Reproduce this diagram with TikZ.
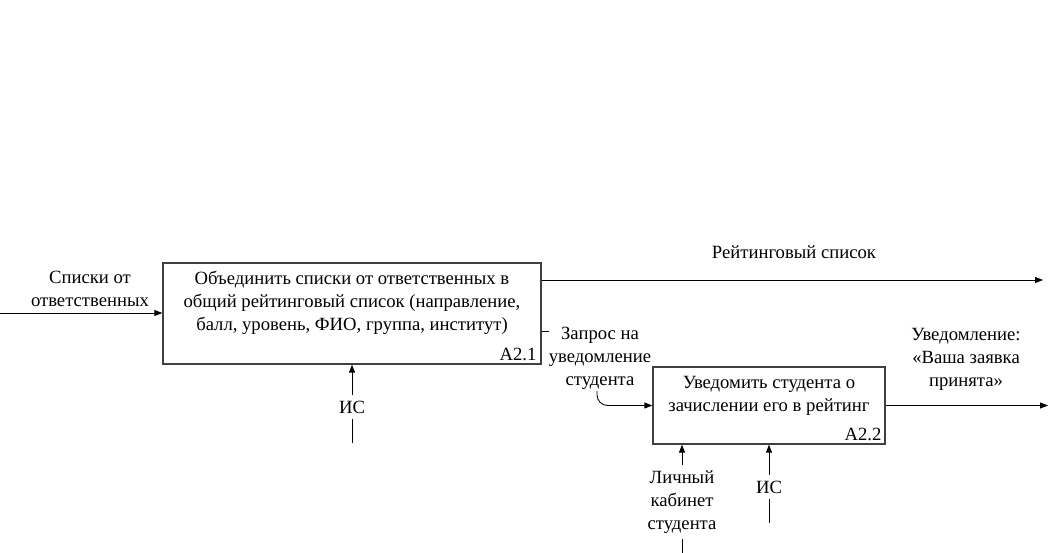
\documentclass[tikz,border=0pt]{standalone}
\usepackage{fontspec}
\setmainfont{Liberation Serif}
\usetikzlibrary{arrows.meta,calc}
\tikzset{
  box/.style={draw=black!75, line width=1pt, fill=none, inner sep=0pt},
  txt/.style={align=center, inner sep=0pt, font=\fontsize{14}{17.2}\selectfont},
  lbl/.style={align=center, inner xsep=0pt, inner ysep=4pt, font=\fontsize{14}{17.2}\selectfont},
  num/.style={inner sep=0pt, font=\fontsize{14}{17.2}\selectfont},
  arr/.style={line width=0.65pt, -{Triangle[length=6pt,width=4.5pt]}},
  ln/.style={line width=0.65pt}
}
\begin{document}
\begin{tikzpicture}[x=0.75pt,y=-0.75pt]
\useasboundingbox (0,0) rectangle (1049,553);
% boxes
\node[box, minimum width=283.5pt, minimum height=75.75pt] (b1) at (352,313.5) {};
\node[txt] (t1) at (352,302.5) {Объединить списки от ответственных в\\общий рейтинговый список (направление,\\балл, уровень, ФИО, группа, институт)};
\node[num, anchor=south east] (n1) at ($(b1.south east)+(-5,-4)$) {A2.1};
\node[box, minimum width=174pt, minimum height=57.75pt] (b2) at (769,405.5) {};
\node[txt] (t2) at (769,395.5) {Уведомить студента о\\зачислении его в рейтинг};
\node[num, anchor=south east] (n2) at ($(b2.south east)+(-4,-4)$) {A2.2};
% input
\coordinate (in1) at (0,313);
\draw[arr] (in1) -- (in1 -| b1.west);
\node[txt] (l1) at (90,288.5) {Списки от\\ответственных};
% output 1
\coordinate (out1) at (1043,280);
\draw[arr] (b1.east |- out1) -- (out1);
\node[txt] (l2) at (794,252) {Рейтинговый список};
% mechanism 1
\coordinate (m1) at (352,443);
\node[lbl] (is1) at (352,407) {ИС};
\draw[ln] (m1) -- (is1.south);
\draw[arr] (is1.north) -- (b1.south);
% request
\coordinate (zs) at (549,331);
\draw[ln] (b1.east |- zs) -- (zs);
\node[txt] (zl) at (600,358) {Запрос на\\уведомление\\студента};
\coordinate (zc) at (597,391);
\draw[arr, rounded corners=8pt] (zc) |- (b2.west);
% output 2
\coordinate (out2) at (1048,405.5);
\draw[arr] (b2.east) -- (out2);
\node[txt] (l3) at (966,359) {Уведомление:\\«Ваша заявка\\принята»};
% mechanisms 2
\coordinate (m2) at (682,553);
\node[lbl] (lk) at (682,502) {Личный\\кабинет\\студента};
\draw[ln] (m2) -- (lk.south);
\draw[arr] (lk.north) -- (lk.north |- b2.south);
\coordinate (m3) at (769,523);
\node[lbl] (is2) at (769,487) {ИС};
\draw[ln] (m3) -- (is2.south);
\draw[arr] (is2.north) -- (is2.north |- b2.south);
\end{tikzpicture}
\end{document}
